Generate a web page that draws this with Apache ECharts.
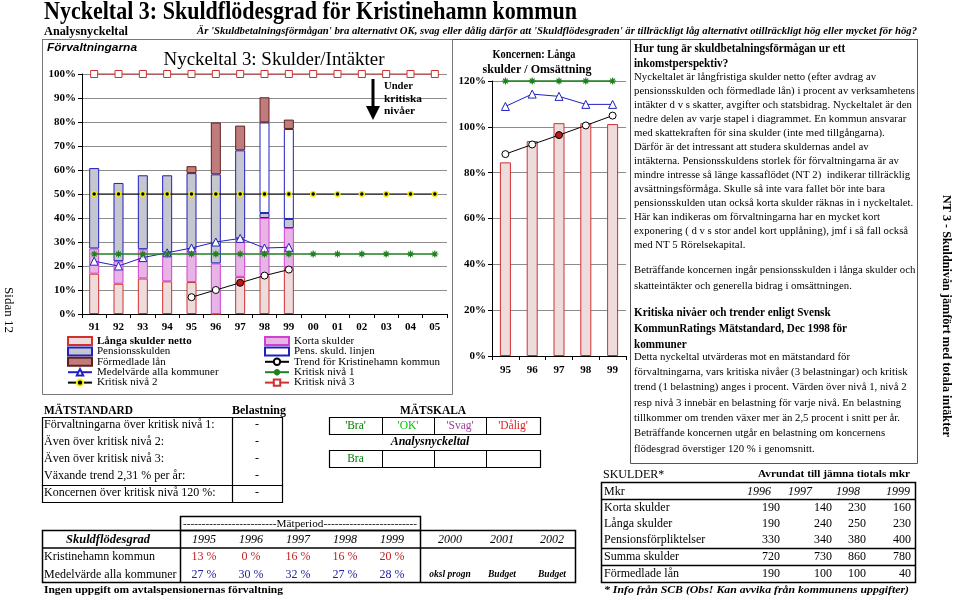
<!DOCTYPE html>
<html><head><meta charset="utf-8">
<script src="https://cdn.jsdelivr.net/npm/echarts@6/dist/echarts.min.js"></script>
<style>html,body{margin:0;padding:0;background:#fff}#c{width:960px;height:599px}</style>
</head><body><div id="c"></div>
<script>
// ---------- DATA ----------
const cats = ['91','92','93','94','95','96','97','98','99','00','01','02','03','04','05'];
const langaSkulder   = [16.8, 12.6, 14.8, 13.6, 13.3, 0, 15.5, 16.1, 19.5];
const kortaSkulder   = [10.5, 9.4, 12.2, 12.0, 13.7, 21.1, 16.0, 23.9, 16.3];
const pensionsskulden= [33.5, 32.6, 30.8, 32.2, 31.7, 37.1, 36.7, 2.1, 3.8];
const pensLinjen     = [null, null, null, null, null, null, null, 37.7, 37.5];
const formedladeLan  = [null, null, null, null, 2.9, 21.6, 10.3, 10.5, 3.9];
const medelvarde     = [22, 20, 23.5, 25.5, 27.5, 30, 31.5, 27.5, 27.8];
const trendKristinehamn = [null, null, null, null, 7, 10, 13, 16, 18.5];
const kritisk1 = [25,25,25,25,25,25,25,25,25,25,25,25,25,25,25];
const kritisk2 = [50,50,50,50,50,50,50,50,50,50,50,50,50,50,50];
const kritisk3 = [100,100,100,100,100,100,100,100,100,100,100,100,100,100,100];

const koncernCats   = ['95','96','97','98','99'];
const koncernLanga  = [84.5, 93.8, 101.6, 101.6, 101.2];
const koncernMedel  = [108.9, 114.3, 113.3, 109.8, 109.8];
const koncernTrend  = [88.1, 92.3, 96.4, 100.6, 104.9];
const koncernKritisk= [120, 120, 120, 120, 120];

const matstandardLabels = ['Förvaltningarna över kritisk nivå 1:', 'Även över kritisk nivå 2:', 'Även över kritisk nivå 3:', 'Växande trend 2,31 % per år:', 'Koncernen över kritisk nivå 120 %:'];
const belastning = ['-', '-', '-', '-', '-'];
const matskala = ["'Bra'", "'OK'", "'Svag'", "'Dålig'"];
const analysRow = ['Bra', '', '', ''];

const tableYears = ['1995','1996','1997','1998','1999','2000','2001','2002'];
const kristinehamnPct = ['13 %','0 %','16 %','16 %','20 %'];
const medelPct = ['27 %','30 %','32 %','27 %','28 %'];
const prognosLabels = ['oksl progn','Budget','Budget'];

const skulderYears = ['1996','1997','1998','1999'];
const skulderRows = [
  ['Korta skulder', 190, 140, 230, 160],
  ['Långa skulder', 190, 240, 250, 230],
  ['Pensionsförpliktelser', 330, 340, 380, 400],
  ['Summa skulder', 720, 730, 860, 780],
  ['Förmedlade lån', 190, 100, 100, 40]
];

const info1Head = ['Hur tung är skuldbetalningsförmågan ur ett', 'inkomstperspektiv?'];
const info1Body = [
  'Nyckeltalet är långfristiga skulder netto (efter avdrag av',
  'pensionsskulden och förmedlade lån) i procent av verksamhetens',
  'intäkter d v s skatter, avgifter och statsbidrag. Nyckeltalet är den',
  'nedre delen av varje stapel i diagrammet. En kommun ansvarar',
  'med skattekraften för sina skulder (inte med tillgångarna).',
  'Därför är det intressant att studera skuldernas andel av',
  'intäkterna. Pensionsskuldens storlek för förvaltningarna är av',
  'mindre intresse så länge kassaflödet (NT 2)  indikerar tillräcklig',
  'avsättningsförmåga. Skulle så inte vara fallet bör inte bara',
  'pensionsskulden utan också korta skulder räknas in i nyckeltalet.',
  'Här kan indikeras om förvaltningarna har en mycket kort',
  'exponering ( d v s stor andel kort upplåning), jmf i så fall också',
  'med NT 5 Rörelsekapital.'
];
const info1Body2 = ['Beträffande koncernen ingår pensionsskulden i långa skulder och', 'skatteintäkter och generella bidrag i omsättningen.'];
const info2Head = ['Kritiska nivåer och trender enligt Svensk', 'KommunRatings Mätstandard, Dec 1998 för', 'kommuner'];
const info2Body = [
  'Detta nyckeltal utvärderas mot en mätstandard för',
  'förvaltningarna, vars kritiska nivåer (3 belastningar) och kritisk',
  'trend (1 belastning) anges i procent. Värden över nivå 1, nivå 2',
  'resp nivå 3 innebär en belastning för varje nivå. En belastning',
  'tillkommer om trenden växer mer än 2,5 procent i snitt per år.',
  'Beträffande koncernen utgår en belastning om koncernens',
  'flödesgrad överstiger 120 % i genomsnitt.'
];

// ---------- HELPERS ----------
const SERIF = '"Liberation Serif","Times New Roman",serif';
const SANS = '"Liberation Sans",Arial,sans-serif';
const mctx = document.createElement('canvas').getContext('2d');
function fontStr(o){ return (o.style||'normal')+' '+(o.weight||'normal')+' '+(o.size||11)+'px '+(o.family||SERIF); }
function measure(s,o){ mctx.font = fontStr(o); return mctx.measureText(s).width; }
function txt(x,y,s,o){
  o = o||{};
  const f = fontStr(o);
  const el = {type:'text', x:x, y:y, silent:true, z:20,
    style:{text:s, font:f, fill:o.color||'#000', textAlign:o.align||'left', textVerticalAlign:'middle', align:o.align||'left', verticalAlign:'middle'}};
  if (o.width) el.scaleX = o.width / measure(s,o);
  if (o.scaleX) el.scaleX = o.scaleX;
  if (o.rotation) el.rotation = o.rotation;
  return el;
}
function ln(x1,y1,x2,y2,w,c){ return {type:'line', silent:true, z:15, shape:{x1:x1,y1:y1,x2:x2,y2:y2}, style:{stroke:c||'#000', lineWidth:w||1}}; }
function box(x,y,w,h,lw,c){ return {type:'rect', silent:true, z:15, shape:{x:x,y:y,width:w,height:h}, style:{fill:'none', stroke:c||'#000', lineWidth:lw||1}}; }

const G = [];
// titles
G.push(txt(44, 13, 'Nyckeltal 3: Skuldflödesgrad för Kristinehamn kommun', {size:25, weight:'bold', width:533}));
G.push(txt(44, 32, 'Analysnyckeltal', {size:12, weight:'bold', width:84}));
G.push(txt(197, 31, "Är 'Skuldbetalningsförmågan' bra alternativt OK, svag eller dålig därför att 'Skuldflödesgraden' är tillräckligt låg alternativt otillräckligt hög eller mycket för hög?", {size:10, weight:'bold', style:'italic', width:720}));
G.push(ln(42, 39.5, 918, 39.5, 1, '#555'));
// left box
G.push(box(42.5, 39.5, 410, 355, 1, '#777'));
G.push(txt(47, 48, 'Förvaltningarna', {size:11.5, weight:'bold', style:'italic', family:SANS, width:90}));
G.push(txt(274, 60, 'Nyckeltal 3: Skulder/Intäkter', {size:18, align:'center', width:221}));
// arrow
G.push(ln(373, 79, 373, 108, 3));
G.push({type:'polygon', silent:true, z:16, shape:{points:[[366,106],[380,106],[373,120]]}, style:{fill:'#000'}});
G.push(txt(384, 86, 'Under', {size:10, weight:'bold', width:29}));
G.push(txt(384, 99, 'kritiska', {size:10, weight:'bold', width:38}));
G.push(txt(384, 111, 'nivåer', {size:10, weight:'bold', width:31}));
// middle title
G.push(txt(534, 55, 'Koncernen: Långa', {size:12, weight:'bold', align:'center', width:83}));
G.push(txt(537, 70, 'skulder / Omsättning', {size:12, weight:'bold', align:'center', width:109}));
// right box
G.push(box(630.5, 39.5, 287, 424, 1, '#555'));
const bodyRef = measure(info1Body[1], {size:10.5});
const bodyScale = 281 / bodyRef;
info1Head.forEach((s,i)=>G.push(txt(634, 49 + i*15, s, {size:12, weight:'bold', scaleX:0.93})));
info1Body.forEach((s,i)=>G.push(txt(634, 77 + i*14, s, {size:10.5, scaleX:bodyScale})));
info1Body2.forEach((s,i)=>G.push(txt(634, 270 + i*16.5, s, {size:10.5, scaleX:bodyScale})));
info2Head.forEach((s,i)=>G.push(txt(634, 313 + i*16, s, {size:12, weight:'bold', scaleX:0.93})));
info2Body.forEach((s,i)=>G.push(txt(634, 357 + i*15.3, s, {size:10.5, scaleX:bodyScale})));
// side texts
G.push(txt(8, 310, 'Sidan 12', {size:13, align:'center', rotation:-Math.PI/2}));
G.push(txt(946, 316, 'NT 3 - Skuldnivån jämfört med totala intäkter', {size:12, weight:'bold', align:'center', rotation:-Math.PI/2, width:242}));

// MÄTSTANDARD table
G.push(txt(44, 411, 'MÄTSTANDARD', {size:12, weight:'bold', width:89}));
G.push(txt(259, 411, 'Belastning', {size:12, weight:'bold', align:'center'}));
G.push(box(42.5, 417.5, 240, 68, 1.2));
G.push(box(42.5, 485.5, 240, 17, 1.2));
G.push(ln(232.5, 417.5, 232.5, 502.5, 1.2));
matstandardLabels.forEach((s,i)=>{
  G.push(txt(44, 425 + i*17, s, {size:12}));
  G.push(txt(257, 425 + i*17, belastning[i], {size:12, align:'center'}));
});
// MÄTSKALA
const skX = [329, 382, 434, 486, 540];
const skCol = ['#008000', '#00c000', '#a040a0', '#e02020'];
G.push(txt(433, 411, 'MÄTSKALA', {size:12, weight:'bold', align:'center', width:66}));
G.push(box(skX[0]+0.5, 417.5, skX[4]-skX[0], 17, 1.2));
G.push(box(skX[0]+0.5, 450.5, skX[4]-skX[0], 17, 1.2));
for (let i=1;i<4;i++){ G.push(ln(skX[i]+0.5, 417.5, skX[i]+0.5, 434.5, 1)); G.push(ln(skX[i]+0.5, 450.5, skX[i]+0.5, 467.5, 1)); }
matskala.forEach((s,i)=>G.push(txt((skX[i]+skX[i+1])/2, 426, s, {size:11.5, color:skCol[i], align:'center'})));
G.push(txt(430, 442, 'Analysnyckeltal', {size:12, weight:'bold', style:'italic', align:'center'}));
analysRow.forEach((s,i)=>{ if (s) G.push(txt((skX[i]+skX[i+1])/2, 459, s, {size:11.5, color:'#008000', align:'center'})); });

// bottom table
G.push(box(180.5, 516.5, 240, 14, 1.5));
G.push(txt(300, 524, '-------------------------Mätperiod-------------------------', {size:10.5, align:'center', width:234}));
G.push(box(42.5, 530.5, 533, 52, 1.5));
G.push(ln(42.5, 548, 575.5, 548, 1.5));
G.push(ln(180.5, 530.5, 180.5, 582.5, 1.5));
G.push(ln(420.5, 530.5, 420.5, 582.5, 1.5));
G.push(txt(108, 540, 'Skuldflödesgrad', {size:12.5, weight:'bold', style:'italic', align:'center'}));
const tX = [204, 251, 298, 345, 392, 450, 502, 552];
tableYears.forEach((s,i)=>G.push(txt(tX[i], 540, s, {size:12, style:'italic', align:'center'})));
G.push(txt(44, 557, 'Kristinehamn kommun', {size:12}));
G.push(txt(44, 575, 'Medelvärde alla kommuner', {size:12}));
kristinehamnPct.forEach((s,i)=>G.push(txt(tX[i], 557, s, {size:12, color:'#c02020', align:'center'})));
medelPct.forEach((s,i)=>G.push(txt(tX[i], 575, s, {size:12, color:'#2020a0', align:'center'})));
prognosLabels.forEach((s,i)=>G.push(txt(tX[5+i], 575, s, {size:9.5, weight:'bold', style:'italic', align:'center'})));
G.push(txt(44, 590, 'Ingen uppgift om avtalspensionernas förvaltning', {size:10, weight:'bold', width:239}));

// SKULDER table
G.push(txt(603, 475, 'SKULDER*', {size:12}));
G.push(txt(910, 475, 'Avrundat till jämna tiotals mkr', {size:9.5, weight:'bold', align:'right', width:152}));
G.push(box(601.5, 482.5, 314, 100, 1.5));
G.push(ln(601.5, 499.5, 915.5, 499.5, 1.5));
G.push(ln(601.5, 548.5, 915.5, 548.5, 1.5));
G.push(ln(601.5, 565.5, 915.5, 565.5, 1.5));
const sYX = [771, 812, 860, 910];
const sVX = [780, 832, 866, 911];
G.push(txt(604, 492, 'Mkr', {size:12}));
skulderYears.forEach((s,i)=>G.push(txt(sYX[i], 492, s, {size:12, style:'italic', align:'right'})));
const sRowY = [508, 524, 540, 557, 574];
skulderRows.forEach((r,j)=>{
  G.push(txt(604, sRowY[j], r[0], {size:12}));
  for (let i=1;i<5;i++) G.push(txt(sVX[i-1], sRowY[j], String(r[i]), {size:12, align:'right'}));
});
G.push(txt(604, 590, '* Info från SCB (Obs! Kan avvika från kommunens uppgifter)', {size:10.5, weight:'bold', style:'italic', width:305}));

// ---------- CHART ----------
const chart = echarts.init(document.getElementById('c'), null, {renderer:'canvas'});
const axisLbl = {fontFamily:SERIF, fontWeight:'bold', fontSize:11, color:'#000'};
const red = '#d03030', blue = '#2020c0', green = '#208020';
const star = 'path://M5,0L5,10M0,5L10,5M1.5,1.5L8.5,8.5M8.5,1.5L1.5,8.5';
function barS(name, data, fill, border, grid){
  return {type:'bar', name:name, data:data, stack:grid?'k':'a', xAxisIndex:grid||0, yAxisIndex:grid||0, barWidth:grid?11:10,
    itemStyle:{color:fill, borderColor:border, borderWidth:1}, emphasis:{disabled:true}, z:2};
}
function lineS(name, data, color, symbol, size, fill, grid, extra){
  return Object.assign({type:'line', name:name, data:data, xAxisIndex:grid||0, yAxisIndex:grid||0, symbol:symbol, symbolSize:size,
    lineStyle:{color:color, width:1}, itemStyle:{color:fill, borderColor:color, borderWidth:1}, emphasis:{disabled:true}, clip:false, z:5, connectNulls:false}, extra||{});
}
const trendData = trendKristinehamn.map((v,i)=> i===6 ? {value:v, itemStyle:{color:'#c01818'}} : v);
const koncernTrendData = koncernTrend.map((v,i)=> i===2 ? {value:v, itemStyle:{color:'#c01818'}} : v);
const legText = {fontFamily:SERIF, fontSize:11, color:'#000', lineHeight:10, rich:{b:{fontWeight:'bold', fontFamily:SERIF, fontSize:11, lineHeight:10}}};

const option = {
  animation:false,
  backgroundColor:'#fff',
  grid:[
    {left:82, top:74, width:365, height:240},
    {left:492, top:81, width:134, height:275}
  ],
  xAxis:[
    {type:'category', gridIndex:0, data:cats, axisLine:{lineStyle:{color:'#000'}}, axisTick:{show:true, length:4, lineStyle:{color:'#000'}}, axisLabel:Object.assign({margin:8}, axisLbl)},
    {type:'category', gridIndex:1, data:koncernCats, axisLine:{lineStyle:{color:'#000'}}, axisTick:{show:true, length:4, lineStyle:{color:'#000'}}, axisLabel:Object.assign({margin:9}, axisLbl)}
  ],
  yAxis:[
    {type:'value', gridIndex:0, min:0, max:100, interval:10, axisLine:{show:true, lineStyle:{color:'#000'}}, axisTick:{show:true, length:4, lineStyle:{color:'#000'}}, axisLabel:Object.assign({formatter:'{value}%', margin:6}, axisLbl), splitLine:{lineStyle:{color:'#8c8c8c'}}},
    {type:'value', gridIndex:1, min:0, max:120, interval:20, axisLine:{show:true, lineStyle:{color:'#000'}}, axisTick:{show:true, length:4, lineStyle:{color:'#000'}}, axisLabel:Object.assign({formatter:'{value}%', margin:6}, axisLbl), splitLine:{lineStyle:{color:'#8c8c8c'}}}
  ],
  legend:[
    {left:67, top:335.5, padding:0, orient:'vertical', itemWidth:24, itemHeight:8, itemGap:-0.6, selectedMode:false,
      data:[{name:'Långa skulder netto', icon:'rect'},{name:'Pensionsskulden', icon:'rect'},{name:'Förmedlade lån', icon:'rect'},'Medelvärde alla kommuner','Kritisk nivå 2'],
      formatter:n=> n==='Långa skulder netto' ? '{b|'+n+'}' : n,
      textStyle:legText},
    {left:264, top:335.5, padding:0, orient:'vertical', itemWidth:24, itemHeight:8, itemGap:-0.6, selectedMode:false,
      data:[{name:'Korta skulder', icon:'rect'},{name:'Pens. skuld. linjen', icon:'rect'},'Trend för Kristinehamn kommun','Kritisk nivå 1','Kritisk nivå 3'],
      textStyle:legText}
  ],
  series:[
    barS('Långa skulder netto', langaSkulder, '#eedcdc', red),
    barS('Korta skulder', kortaSkulder, '#e8b4e8', '#d040d0'),
    barS('Pensionsskulden', pensionsskulden, '#c6c6cf', blue),
    barS('Pens. skuld. linjen', pensLinjen, '#ffffff', blue),
    barS('Förmedlade lån', formedladeLan, '#c07c7c', '#602020'),
    lineS('Trend för Kristinehamn kommun', trendData, '#000', 'circle', 7, '#fff'),
    lineS('Medelvärde alla kommuner', medelvarde, blue, 'triangle', 8, '#fff'),
    lineS('Kritisk nivå 1', kritisk1, green, star, 7, green, 0, {itemStyle:{color:green, borderColor:green, borderWidth:1.2}, lineStyle:{color:green, width:1.3}}),
    lineS('Kritisk nivå 2', kritisk2, '#000', 'circle', 5, '#000', 0, {itemStyle:{color:'#000', borderColor:'#f0f000', borderWidth:1.5}}),
    lineS('Kritisk nivå 3', kritisk3, red, 'rect', 7, '#fff'),
    barS('Koncern långa', koncernLanga, '#eedcdc', red, 1),
    lineS('Koncern trend', koncernTrendData, '#000', 'circle', 7, '#fff', 1),
    lineS('Koncern medel', koncernMedel, blue, 'triangle', 8, '#fff', 1),
    lineS('Koncern kritisk', koncernKritisk, green, star, 7, green, 1, {itemStyle:{color:green, borderColor:green, borderWidth:1.2}, lineStyle:{color:green, width:1.3}})
  ],
  graphic:{elements:G}
};
chart.setOption(option);
</script></body></html>
